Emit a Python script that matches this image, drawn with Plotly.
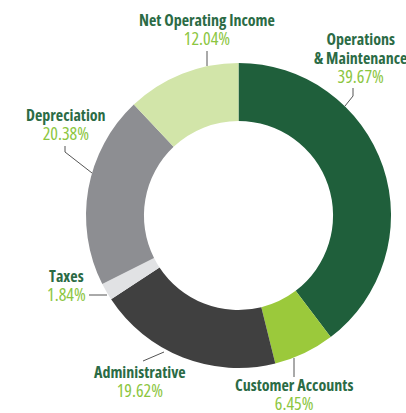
import plotly.graph_objects as go

categories = ["Operations & Maintenance", "Customer Accounts", "Administrative",
              "Taxes", "Depreciation", "Net Operating Income"]
values = [39.67, 6.45, 19.62, 1.84, 20.38, 12.04]
label_lines = [["Operations", "& Maintenance"], ["Customer Accounts"], ["Administrative"],
               ["Taxes"], ["Depreciation"], ["Net Operating Income"]]
colors = ["#1F5F3B", "#9BC93B", "#404040", "#E1E2E4", "#8D8E92", "#D2E5A9"]

W, H = 406, 413
TITLE_COLOR = "#2B6B45"
PCT_COLOR = "#8CC63F"
FONT = "Open Sans, Roboto, sans-serif"


def px(x, y):
    return x / W, 1 - y / H


fig = go.Figure(go.Pie(
    labels=categories,
    values=values,
    sort=False,
    direction="clockwise",
    rotation=0,
    hole=0.62,
    marker=dict(colors=colors, line=dict(width=0)),
    textinfo="none",
    hoverinfo="label+percent",
    domain=dict(x=[86 / W, 391 / W], y=[1 - 368 / H, 1 - 63 / H]),
    showlegend=False,
))

# label layout: pixel centre of each label block
label_pos = {
    "Operations & Maintenance": (360, 58),
    "Customer Accounts": (294, 394),
    "Administrative": (140, 381),
    "Taxes": (66, 285),
    "Depreciation": (66, 124),
    "Net Operating Income": (207, 30),
}

# leader lines (pixel polylines)
leaders = [
    [(353, 88), (353, 96), (345, 106)],
    [(294, 358), (294, 377)],
    [(143, 361), (164, 352)],
    [(89, 295), (107, 295)],
    [(65, 146), (65, 152), (92, 173)],
    [(207, 51), (207, 66)],
]

annotations = []
for cat, lines, v in zip(categories, label_lines, values):
    x, y = label_pos[cat]
    fx, fy = px(x, y)
    title = "<br>".join(f"<span style='font-stretch:75%;font-size:16px'><b>{ln}</b></span>" for ln in lines)
    pct = f"<span style='font-stretch:80%;font-size:18px;color:{PCT_COLOR}'>{v:.2f}%</span>"
    annotations.append(dict(
        x=fx, y=fy, xref="paper", yref="paper",
        xanchor="center", yanchor="middle", showarrow=False, align="center",
        text=f"{title}<br>{pct}",
        font=dict(family=FONT, size=14.5, color=TITLE_COLOR),
    ))

shapes = []
for pts in leaders:
    path = ""
    for i, (x, y) in enumerate(pts):
        fx, fy = px(x, y)
        path += ("M" if i == 0 else "L") + f" {fx} {fy} "
    shapes.append(dict(type="path", xref="paper", yref="paper", path=path,
                       line=dict(color="#555555", width=1)))

fig.update_layout(
    width=W, height=H,
    margin=dict(l=0, r=0, t=0, b=0),
    paper_bgcolor="white",
    plot_bgcolor="white",
    annotations=annotations,
    shapes=shapes,
)

fig.write_html("out.html", config=dict(displayModeBar=False),
               post_script="document.body.style.margin='0';")
